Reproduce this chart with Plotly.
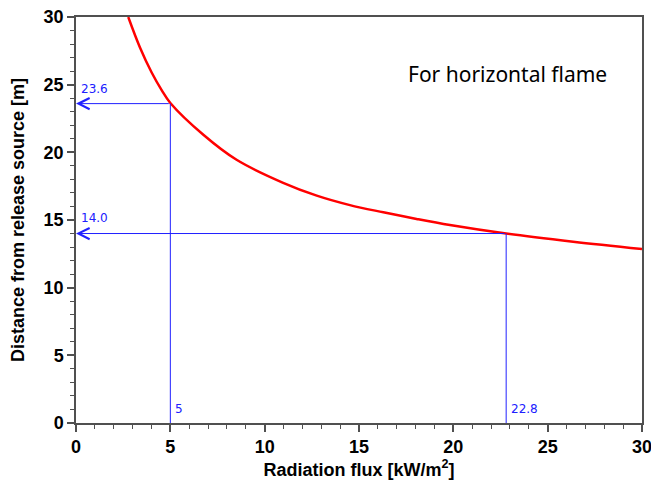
import plotly.graph_objects as go

# --- dados ---
fluxo = [2.77, 3.39, 4.01, 4.54, 5.0, 6.75, 8.51, 10.98, 12.76, 14.52, 16.29, 18.05, 19.82, 22.8, 26.35, 30.0]
distancia = [30.0, 27.75, 25.9, 24.6, 23.65, 21.3, 19.45, 17.75, 16.8, 16.1, 15.57, 15.08, 14.63, 14.0, 13.4, 12.86]

# pontos de referência marcados em azul
marc_fluxo = [5, 22.8]
marc_dist = [23.6, 14.0]
marc_fluxo_txt = ['5', '22.8']
marc_dist_txt = ['23.6', '14.0']

ticks_eixo = [0, 5, 10, 15, 20, 25, 30]

AZUL = '#2020ff'
CINZA = '#505050'

fig = go.Figure()

fig.add_trace(go.Scatter(
    x=fluxo, y=distancia, mode='lines',
    line=dict(color='#ff0000', width=2.5, shape='spline', smoothing=1.0),
    showlegend=False, hoverinfo='skip'
))

for fx, dy, tx, ty in zip(marc_fluxo, marc_dist, marc_fluxo_txt, marc_dist_txt):
    # linha vertical a partir do eixo x
    fig.add_shape(type='line', x0=fx, x1=fx, y0=0, y1=dy,
                  line=dict(color=AZUL, width=1))
    # seta horizontal até o eixo y
    fig.add_annotation(x=0, y=dy, ax=fx, ay=dy, xref='x', yref='y',
                       axref='x', ayref='y', text='', showarrow=True,
                       arrowhead=5, arrowsize=2.2, arrowwidth=1, arrowcolor=AZUL,
                       standoff=0)
    fig.add_annotation(x=0.15, y=dy + 0.45, text=ty, showarrow=False,
                       xanchor='left', yanchor='bottom',
                       font=dict(family='DejaVu Sans', size=12, color=AZUL))
    fig.add_annotation(x=fx + 0.15, y=0.35, text=tx, showarrow=False,
                       xanchor='left', yanchor='bottom',
                       font=dict(family='DejaVu Sans', size=12, color=AZUL))

fig.add_annotation(x=17.5, y=25.8, text='For horizontal flame', showarrow=False,
                   xanchor='left', yanchor='middle',
                   font=dict(family='Noto Sans', size=21, color='black'))

eixo_comum = dict(
    range=[0, 30], tickvals=ticks_eixo, ticktext=[str(t) for t in ticks_eixo],
    showgrid=False, zeroline=False, showline=True, linecolor=CINZA, linewidth=1.5,
    mirror=True, ticks='outside', ticklen=7, tickwidth=1.5, tickcolor=CINZA,
    minor=dict(dtick=1, ticks='outside', ticklen=4, tickwidth=1, tickcolor=CINZA),
    tickfont=dict(family='Liberation Sans', size=18, color='black', weight='bold'),
    automargin=False,
)

# figura um pouco mais larga que a janela: o "30" do eixo x fica cortado na borda, como no original
fig.update_layout(
    width=664, height=503,
    margin=dict(l=76, r=22, t=17, b=80),
    plot_bgcolor='white', paper_bgcolor='white',
    xaxis=dict(eixo_comum,
               title=dict(text='Radiation flux [kW/m<sup>2</sup>]', standoff=4,
                          font=dict(family='Liberation Sans', size=18, color='black', weight='bold'))),
    yaxis=dict(eixo_comum,
               title=dict(text='Distance from release source [m]', standoff=14,
                          font=dict(family='Liberation Sans', size=18, color='black', weight='bold'))),
)

# tira a margem padrão do body para a figura começar em (0, 0)
fig.write_html('out.html', config={'displayModeBar': False},
               post_script="document.body.style.margin='0';document.body.style.overflow='hidden';")
